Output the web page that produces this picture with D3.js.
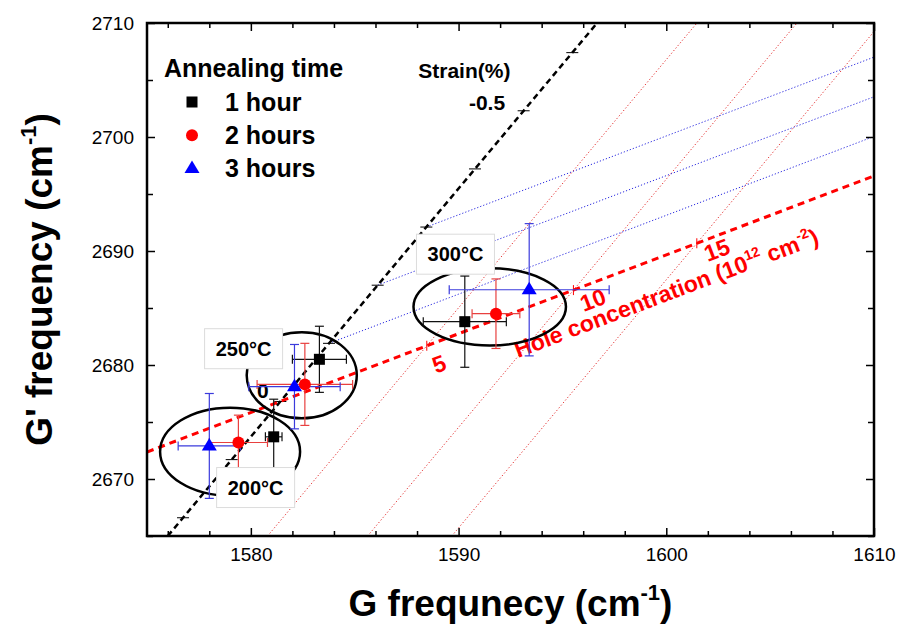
<!DOCTYPE html>
<html><head><meta charset="utf-8">
<script src="https://cdn.jsdelivr.net/npm/d3@7"></script>
<style>
body{margin:0;background:#fff}
svg{display:block}
text{font-family:Arial,'Liberation Sans',sans-serif}
</style>
</head><body>
<svg id="c" width="906" height="631"></svg>
<script>
// ---------------- data ----------------
const xDomain = [1575, 1610];
const yDomain = [2665, 2710];
const xMajorTicks = [1580, 1590, 1600, 1610];
const xMinorTicks = [1576,1578,1582,1584,1586,1588,1592,1594,1596,1598,1602,1604,1606,1608];
const yMajorTicks = [2670, 2680, 2690, 2700, 2710];
const yMinorTicks = [2665, 2675, 2685, 2695, 2705];

const seriesNames = ["1 hour", "2 hours", "3 hours"];
const temperatures = ["200°C", "250°C", "300°C"];
// G frequency, G' frequency, and error half-widths for each temperature
const oneHourG   = [1581.1, 1583.3, 1590.3];
const oneHourGp  = [2673.7, 2680.5, 2683.8];
const oneHourGe  = [0.4, 1.3, 2.0];
const oneHourGpe = [3.3, 2.9, 4.0];
const twoHoursG   = [1579.4, 1582.6, 1591.8];
const twoHoursGp  = [2673.2, 2678.3, 2684.5];
const twoHoursGe  = [1.4, 2.3, 1.15];
const twoHoursGpe = [2.4, 3.6, 3.05];
const threeHoursG   = [1578.0, 1582.1, 1593.4];
const threeHoursGp  = [2672.9, 2678.1, 2686.6];
const threeHoursGe  = [1.5, 2.2, 3.85];
const threeHoursGpe = [4.6, 3.7, 5.8];

// group ellipses (centre G, centre G', half-widths)
const ellipseG   = [1579.0, 1582.45, 1591.5];
const ellipseGp  = [2672.4, 2679.1, 2685.1];
const ellipseRG  = [3.37, 2.65, 3.67];
const ellipseRGp = [3.86, 3.77, 3.39];
// temperature label positions (box centre)
const tempLabelG  = [1580.23, 1579.65, 1589.85];
const tempLabelGp = [2669.25, 2681.43, 2689.72];

// strain line (pure strain direction) and hole doping line
const strainLine = [[1576.0, 2665], [1596.67, 2710]];
const holeLine   = [[1575, 2672.37], [1610, 2696.58]];
// strain ticks (G' values on the strain line), 0.1% steps
const strainTickGp = [2666.6, 2671.7, 2676.8, 2681.9, 2687.0, 2692.1, 2697.2, 2702.3, 2707.4];
// iso-strain (blue dotted) lines start at these strain ticks
const isoStrainGp = [2681.9, 2687.0, 2692.1];
// hole concentration ticks (G values on the hole line)
const holeTickG = [1588.47, 1595.53, 1601.47];
const holeTickLabels = ["5", "10", "15"];
const holeLabelG  = [1589.06, 1596.47, 1602.44];
const holeLabelGp = [2680.09, 2685.7, 2690.09];

// ---------------- drawing ----------------
const svg = d3.select('#c');
const M = {l:147, t:23, r:874, b:536};
const x = d3.scaleLinear().domain(xDomain).range([M.l, M.r]);
const y = d3.scaleLinear().domain(yDomain).range([M.b, M.t]);

svg.append('defs').append('clipPath').attr('id','clip')
  .append('rect').attr('x',M.l).attr('y',M.t).attr('width',M.r-M.l).attr('height',M.b-M.t);

const plot = svg.append('g').attr('clip-path','url(#clip)');

const sSlope = (strainLine[1][1]-strainLine[0][1])/(strainLine[1][0]-strainLine[0][0]);
const hSlope = (holeLine[1][1]-holeLine[0][1])/(holeLine[1][0]-holeLine[0][0]);
const strainX = gp => strainLine[0][0] + (gp - strainLine[0][1])/sSlope;
const holeY = g => holeLine[0][1] + (g - holeLine[0][0])*hSlope;

// red dotted iso-doping lines
holeTickG.forEach(g => {
  const gp = holeY(g);
  const x1 = g + (yDomain[0]-gp)/sSlope, x2 = g + (yDomain[1]-gp)/sSlope;
  plot.append('line').attr('x1',x(x1)).attr('y1',y(yDomain[0])).attr('x2',x(x2)).attr('y2',y(yDomain[1]))
    .attr('stroke','#e42a2a').attr('stroke-width',1).attr('stroke-dasharray','1.2,2.2');
});
// blue dotted iso-strain lines
isoStrainGp.forEach(gp => {
  const g0 = strainX(gp);
  const gp2 = gp + (xDomain[1]-g0)*hSlope;
  plot.append('line').attr('x1',x(g0)).attr('y1',y(gp)).attr('x2',x(xDomain[1])).attr('y2',y(gp2))
    .attr('stroke','#2a2ae0').attr('stroke-width',1).attr('stroke-dasharray','1.2,2');
});
// strain line
plot.append('line').attr('x1',x(strainLine[0][0])).attr('y1',y(strainLine[0][1]))
  .attr('x2',x(strainLine[1][0])).attr('y2',y(strainLine[1][1]))
  .attr('stroke','#000').attr('stroke-width',2.5).attr('stroke-dasharray','6,4');
strainTickGp.forEach(gp => {
  const px = x(strainX(gp)), py = y(gp);
  plot.append('line').attr('x1',px-6).attr('x2',px+6).attr('y1',py).attr('y2',py)
    .attr('stroke','#000').attr('stroke-width',1);
});
// hole line
plot.append('line').attr('x1',x(holeLine[0][0])).attr('y1',y(holeLine[0][1]))
  .attr('x2',x(holeLine[1][0])).attr('y2',y(holeLine[1][1]))
  .attr('stroke','#ff0000').attr('stroke-width',3).attr('stroke-dasharray','7,5');
holeTickG.forEach(g => {
  const px = x(g), py = y(holeY(g));
  plot.append('line').attr('x1',px).attr('x2',px).attr('y1',py-5).attr('y2',py+5)
    .attr('stroke','#ff0000').attr('stroke-width',1);
});
const angle = Math.atan2(y(holeLine[1][1])-y(holeLine[0][1]), x(holeLine[1][0])-x(holeLine[0][0]))*180/Math.PI;
holeTickLabels.forEach((t,i) => {
  plot.append('text').attr('transform',`translate(${x(holeLabelG[i])},${y(holeLabelGp[i])}) rotate(${angle})`)
    .attr('text-anchor','middle').attr('dy','0.35em').attr('fill','#ff0000')
    .attr('font-size',23).attr('font-weight','bold').text(t);
});
const ht = plot.append('text')
  .attr('transform',`translate(${x(1592.86)},${y(2680.61)}) rotate(${angle})`)
  .attr('fill','#ff0000').attr('font-size',23).attr('font-weight','bold');
ht.append('tspan').text('Hole concentration (10');
ht.append('tspan').attr('font-size',14).attr('dy',-10).text('12');
ht.append('tspan').attr('dy',10).text(' cm');
ht.append('tspan').attr('font-size',14).attr('dy',-10).text('-2');
ht.append('tspan').attr('dy',10).text(')');

// strain labels
svg.append('text').attr('x',x(1580.58)).attr('y',y(2677.1)).attr('text-anchor','middle')
  .attr('font-size',21).attr('font-weight','bold').text('0');
svg.append('text').attr('x',x(1592.24)).attr('y',y(2702.37)).attr('text-anchor','end')
  .attr('font-size',21).attr('font-weight','bold').text('-0.5');
svg.append('text').attr('x',x(1588.06)).attr('y',y(2705.2))
  .attr('font-size',21).attr('font-weight','bold').text('Strain(%)');

// ellipses
ellipseG.forEach((g,i) => {
  plot.append('ellipse').attr('cx',x(g)).attr('cy',y(ellipseGp[i]))
    .attr('rx',x(g+ellipseRG[i])-x(g)).attr('ry',y(ellipseGp[i])-y(ellipseGp[i]+ellipseRGp[i]))
    .attr('fill','none').attr('stroke','#000').attr('stroke-width',2.5);
});

// series
const series = [
  {name:seriesNames[0], G:oneHourG, Gp:oneHourGp, Ge:oneHourGe, Gpe:oneHourGpe, color:'#000', bar:'#111', shape:'square'},
  {name:seriesNames[1], G:twoHoursG, Gp:twoHoursGp, Ge:twoHoursGe, Gpe:twoHoursGpe, color:'#ff0000', bar:'#e8403f', shape:'circle'},
  {name:seriesNames[2], G:threeHoursG, Gp:threeHoursGp, Ge:threeHoursGe, Gpe:threeHoursGpe, color:'#0000ff', bar:'#3b3bdc', shape:'triangle'}
];
const cap = 4.5;
function marker(g, shape, color, px, py){
  if(shape==='square') g.append('rect').attr('x',px-5.5).attr('y',py-5.5).attr('width',11).attr('height',11).attr('fill',color);
  else if(shape==='circle') g.append('circle').attr('cx',px).attr('cy',py).attr('r',6).attr('fill',color);
  else g.append('path').attr('d',`M${px},${py-8}L${px+7.5},${py+4.5}L${px-7.5},${py+4.5}Z`).attr('fill',color);
}
const eb = svg.append('g');
series.forEach(s => {
  s.G.forEach((g,i) => {
    const px = x(g), py = y(s.Gp[i]);
    const y1 = y(s.Gp[i]+s.Gpe[i]), y2 = y(s.Gp[i]-s.Gpe[i]);
    const x1 = x(g-s.Ge[i]), x2 = x(g+s.Ge[i]);
    const L = (a,b,c,d) => eb.append('line').attr('x1',a).attr('y1',b).attr('x2',c).attr('y2',d)
      .attr('stroke',s.bar).attr('stroke-width',1.2);
    L(px,y1,px,y2); L(px-cap,y1,px+cap,y1); L(px-cap,y2,px+cap,y2);
    L(x1,py,x2,py); L(x1,py-cap,x1,py+cap); L(x2,py-cap,x2,py+cap);
  });
});
series.forEach(s => { s.G.forEach((g,i) => marker(svg, s.shape, s.color, x(g), y(s.Gp[i]))); });

// temperature labels
temperatures.forEach((t,i) => {
  const cx = x(tempLabelG[i]), cy = y(tempLabelGp[i]);
  svg.append('rect').attr('x',cx-39).attr('y',cy-20).attr('width',78).attr('height',40)
    .attr('fill','#fff').attr('stroke','#dcdcdc').attr('stroke-width',1);
  svg.append('text').attr('x',cx).attr('y',cy).attr('dy','0.36em').attr('text-anchor','middle')
    .attr('font-size',20).attr('font-weight','bold').text(t);
});

// legend
const lg = svg.append('g');
lg.append('text').attr('x',164).attr('y',77).attr('font-size',25).attr('font-weight','bold').text('Annealing time');
series.forEach((s,i) => {
  const base = 110.5 + i*33.2;
  marker(lg, s.shape, s.color, 192, base-8.5);
  lg.append('text').attr('x',225).attr('y',base).attr('font-size',25).attr('font-weight','bold').text(s.name);
});

// axes
const axG = svg.append('g');
function styleAxis(g){ g.select('.domain').remove(); g.selectAll('line').attr('stroke','#000').attr('stroke-width',1.5); g.selectAll('text').attr('font-size',19).attr('fill','#000').attr('font-family','Arial, Liberation Sans, sans-serif'); }
axG.append('g').attr('transform',`translate(0,${M.b})`).call(d3.axisBottom(x).tickValues(xMajorTicks).tickSize(-8).tickPadding(12).tickFormat(d3.format('d'))).call(styleAxis);
axG.append('g').attr('transform',`translate(0,${M.b})`).call(d3.axisBottom(x).tickValues(xMinorTicks).tickSize(-5).tickFormat('')).call(styleAxis);
axG.append('g').attr('transform',`translate(0,${M.t})`).call(d3.axisTop(x).tickValues(xMajorTicks).tickSize(-8).tickFormat('')).call(styleAxis);
axG.append('g').attr('transform',`translate(0,${M.t})`).call(d3.axisTop(x).tickValues(xMinorTicks).tickSize(-5).tickFormat('')).call(styleAxis);
axG.append('g').attr('transform',`translate(${M.l},0)`).call(d3.axisLeft(y).tickValues(yMajorTicks).tickSize(-8).tickPadding(13).tickFormat(d3.format('d'))).call(styleAxis);
axG.append('g').attr('transform',`translate(${M.l},0)`).call(d3.axisLeft(y).tickValues(yMinorTicks).tickSize(-6).tickFormat('')).call(styleAxis);
axG.append('g').attr('transform',`translate(${M.r},0)`).call(d3.axisRight(y).tickValues(yMajorTicks).tickSize(-8).tickFormat('')).call(styleAxis);
axG.append('g').attr('transform',`translate(${M.r},0)`).call(d3.axisRight(y).tickValues(yMinorTicks).tickSize(-6).tickFormat('')).call(styleAxis);
svg.append('rect').attr('x',M.l).attr('y',M.t).attr('width',M.r-M.l).attr('height',M.b-M.t)
  .attr('fill','none').attr('stroke','#000').attr('stroke-width',2.5);

// axis titles
const xt = svg.append('text').attr('x',(M.l+M.r)/2).attr('y',616).attr('text-anchor','middle')
  .attr('font-size',37).attr('font-weight','bold');
xt.append('tspan').text('G frequnecy (cm');
xt.append('tspan').attr('font-size',22).attr('dy',-16).text('-1');
xt.append('tspan').attr('dy',16).text(')');
const yt = svg.append('text').attr('transform',`translate(52,${(M.t+M.b)/2}) rotate(-90)`).attr('text-anchor','middle')
  .attr('font-size',37).attr('font-weight','bold');
yt.append('tspan').text("G' frequency (cm");
yt.append('tspan').attr('font-size',22).attr('dy',-16).text('-1');
yt.append('tspan').attr('dy',16).text(')');
</script>
</body></html>
